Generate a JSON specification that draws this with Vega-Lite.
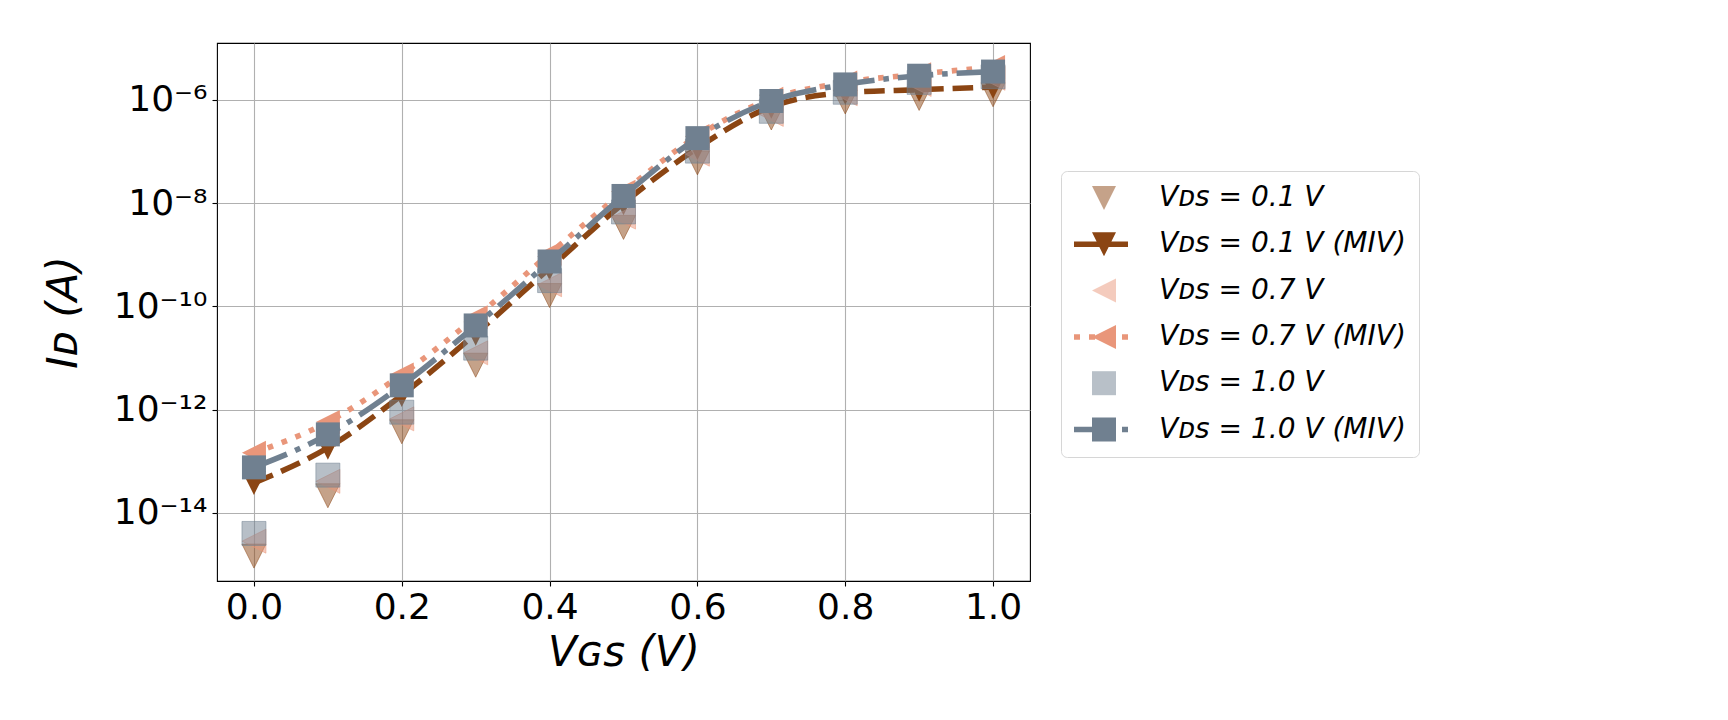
{
  "$schema": "https://vega.github.io/schema/vega-lite/v6.json",
  "width": 813,
  "height": 538,
  "autosize": {"type": "none"},
  "padding": {"left": 217, "top": 43, "right": 698, "bottom": 139},
  "background": "white",
  "datasets": {
    "pts": [
      {"vgs": 0.0, "id": 1.45e-15, "series": "Vᴅꜱ = 0.1 V"},
      {"vgs": 0.1, "id": 2.14e-14, "series": "Vᴅꜱ = 0.1 V"},
      {"vgs": 0.2, "id": 3.72e-13, "series": "Vᴅꜱ = 0.1 V"},
      {"vgs": 0.3, "id": 7.24e-12, "series": "Vᴅꜱ = 0.1 V"},
      {"vgs": 0.4, "id": 1.62e-10, "series": "Vᴅꜱ = 0.1 V"},
      {"vgs": 0.5, "id": 3.39e-9, "series": "Vᴅꜱ = 0.1 V"},
      {"vgs": 0.6, "id": 6.03e-8, "series": "Vᴅꜱ = 0.1 V"},
      {"vgs": 0.7, "id": 4.47e-7, "series": "Vᴅꜱ = 0.1 V"},
      {"vgs": 0.8, "id": 9.12e-7, "series": "Vᴅꜱ = 0.1 V"},
      {"vgs": 0.9, "id": 1.07e-6, "series": "Vᴅꜱ = 0.1 V"},
      {"vgs": 1.0, "id": 1.26e-6, "series": "Vᴅꜱ = 0.1 V"},
      {"vgs": 0.0, "id": 3.80e-14, "series": "Vᴅꜱ = 0.1 V (MIV)"},
      {"vgs": 0.1, "id": 1.82e-13, "series": "Vᴅꜱ = 0.1 V (MIV)"},
      {"vgs": 0.2, "id": 1.91e-12, "series": "Vᴅꜱ = 0.1 V (MIV)"},
      {"vgs": 0.3, "id": 2.95e-11, "series": "Vᴅꜱ = 0.1 V (MIV)"},
      {"vgs": 0.4, "id": 5.50e-10, "series": "Vᴅꜱ = 0.1 V (MIV)"},
      {"vgs": 0.5, "id": 1.0e-8, "series": "Vᴅꜱ = 0.1 V (MIV)"},
      {"vgs": 0.6, "id": 1.17e-7, "series": "Vᴅꜱ = 0.1 V (MIV)"},
      {"vgs": 0.7, "id": 7.41e-7, "series": "Vᴅꜱ = 0.1 V (MIV)"},
      {"vgs": 0.8, "id": 1.38e-6, "series": "Vᴅꜱ = 0.1 V (MIV)"},
      {"vgs": 0.9, "id": 1.58e-6, "series": "Vᴅꜱ = 0.1 V (MIV)"},
      {"vgs": 1.0, "id": 1.78e-6, "series": "Vᴅꜱ = 0.1 V (MIV)"},
      {"vgs": 0.0, "id": 2.82e-15, "series": "Vᴅꜱ = 0.7 V"},
      {"vgs": 0.1, "id": 4.07e-14, "series": "Vᴅꜱ = 0.7 V"},
      {"vgs": 0.2, "id": 6.61e-13, "series": "Vᴅꜱ = 0.7 V"},
      {"vgs": 0.3, "id": 1.26e-11, "series": "Vᴅꜱ = 0.7 V"},
      {"vgs": 0.4, "id": 2.63e-10, "series": "Vᴅꜱ = 0.7 V"},
      {"vgs": 0.5, "id": 5.37e-9, "series": "Vᴅꜱ = 0.7 V"},
      {"vgs": 0.6, "id": 8.91e-8, "series": "Vᴅꜱ = 0.7 V"},
      {"vgs": 0.7, "id": 5.25e-7, "series": "Vᴅꜱ = 0.7 V"},
      {"vgs": 0.8, "id": 1.32e-6, "series": "Vᴅꜱ = 0.7 V"},
      {"vgs": 0.9, "id": 2.0e-6, "series": "Vᴅꜱ = 0.7 V"},
      {"vgs": 1.0, "id": 2.63e-6, "series": "Vᴅꜱ = 0.7 V"},
      {"vgs": 0.0, "id": 1.45e-13, "series": "Vᴅꜱ = 0.7 V (MIV)"},
      {"vgs": 0.1, "id": 5.75e-13, "series": "Vᴅꜱ = 0.7 V (MIV)"},
      {"vgs": 0.2, "id": 4.79e-12, "series": "Vᴅꜱ = 0.7 V (MIV)"},
      {"vgs": 0.3, "id": 6.17e-11, "series": "Vᴅꜱ = 0.7 V (MIV)"},
      {"vgs": 0.4, "id": 1.05e-9, "series": "Vᴅꜱ = 0.7 V (MIV)"},
      {"vgs": 0.5, "id": 1.66e-8, "series": "Vᴅꜱ = 0.7 V (MIV)"},
      {"vgs": 0.6, "id": 2.0e-7, "series": "Vᴅꜱ = 0.7 V (MIV)"},
      {"vgs": 0.7, "id": 1.05e-6, "series": "Vᴅꜱ = 0.7 V (MIV)"},
      {"vgs": 0.8, "id": 2.19e-6, "series": "Vᴅꜱ = 0.7 V (MIV)"},
      {"vgs": 0.9, "id": 3.16e-6, "series": "Vᴅꜱ = 0.7 V (MIV)"},
      {"vgs": 1.0, "id": 4.37e-6, "series": "Vᴅꜱ = 0.7 V (MIV)"},
      {"vgs": 0.0, "id": 3.98e-15, "series": "Vᴅꜱ = 1.0 V"},
      {"vgs": 0.1, "id": 5.37e-14, "series": "Vᴅꜱ = 1.0 V"},
      {"vgs": 0.2, "id": 8.91e-13, "series": "Vᴅꜱ = 1.0 V"},
      {"vgs": 0.3, "id": 1.55e-11, "series": "Vᴅꜱ = 1.0 V"},
      {"vgs": 0.4, "id": 3.16e-10, "series": "Vᴅꜱ = 1.0 V"},
      {"vgs": 0.5, "id": 6.76e-9, "series": "Vᴅꜱ = 1.0 V"},
      {"vgs": 0.6, "id": 1.02e-7, "series": "Vᴅꜱ = 1.0 V"},
      {"vgs": 0.7, "id": 6.03e-7, "series": "Vᴅꜱ = 1.0 V"},
      {"vgs": 0.8, "id": 1.41e-6, "series": "Vᴅꜱ = 1.0 V"},
      {"vgs": 0.9, "id": 2.19e-6, "series": "Vᴅꜱ = 1.0 V"},
      {"vgs": 1.0, "id": 2.82e-6, "series": "Vᴅꜱ = 1.0 V"},
      {"vgs": 0.0, "id": 7.59e-14, "series": "Vᴅꜱ = 1.0 V (MIV)"},
      {"vgs": 0.1, "id": 3.31e-13, "series": "Vᴅꜱ = 1.0 V (MIV)"},
      {"vgs": 0.2, "id": 2.95e-12, "series": "Vᴅꜱ = 1.0 V (MIV)"},
      {"vgs": 0.3, "id": 4.27e-11, "series": "Vᴅꜱ = 1.0 V (MIV)"},
      {"vgs": 0.4, "id": 7.41e-10, "series": "Vᴅꜱ = 1.0 V (MIV)"},
      {"vgs": 0.5, "id": 1.38e-8, "series": "Vᴅꜱ = 1.0 V (MIV)"},
      {"vgs": 0.6, "id": 1.82e-7, "series": "Vᴅꜱ = 1.0 V (MIV)"},
      {"vgs": 0.7, "id": 9.55e-7, "series": "Vᴅꜱ = 1.0 V (MIV)"},
      {"vgs": 0.8, "id": 2.0e-6, "series": "Vᴅꜱ = 1.0 V (MIV)"},
      {"vgs": 0.9, "id": 2.95e-6, "series": "Vᴅꜱ = 1.0 V (MIV)"},
      {"vgs": 1.0, "id": 3.55e-6, "series": "Vᴅꜱ = 1.0 V (MIV)"}
    ]
  },
  "data": {"name": "pts"},
  "encoding": {
    "x": {
      "field": "vgs", "type": "quantitative",
      "scale": {"domain": [-0.05, 1.05], "nice": false, "zero": false},
      "axis": {"values": [0, 0.2, 0.4, 0.6, 0.8, 1.0], "format": ".1f", "title": "Vɢꜱ (V)", "labelFlush": false, "labelPadding": 4, "titlePadding": 7, "labelOverlap": false}
    },
    "y": {
      "field": "id", "type": "quantitative",
      "scale": {"type": "log", "domain": [4.77e-16, 1.27e-5], "nice": false},
      "axis": {
        "values": [1e-14, 1e-12, 1e-10, 1e-8, 1e-6],
        "labelExpr": "datum.value < 1e-13 ? '10⁻¹⁴' : datum.value < 1e-11 ? '10⁻¹²' : datum.value < 1e-9 ? '10⁻¹⁰' : datum.value < 1e-7 ? '10⁻⁸' : '10⁻⁶'",
        "title": "Iᴅ (A)", "labelPadding": 5, "titlePadding": 28, "labelOverlap": false
      }
    }
  },
  "layer": [
    {
      "transform": [{"filter": "datum.series == 'Vᴅꜱ = 0.1 V'"}],
      "mark": {"type": "point", "shape": "M0,1L-1,-1L1,-1Z", "filled": true, "fill": "#8B4513", "fillOpacity": 0.5, "stroke": "#8B4513", "strokeOpacity": 0.5, "strokeWidth": 1, "size": 576}
    },
    {
      "transform": [{"filter": "datum.series == 'Vᴅꜱ = 0.1 V (MIV)'"}],
      "mark": {"type": "line", "color": "#8B4513", "strokeWidth": 5.56, "strokeDash": [20.6, 8.9], "strokeCap": "butt", "interpolate": "monotone"}
    },
    {
      "transform": [{"filter": "datum.series == 'Vᴅꜱ = 0.1 V (MIV)'"}],
      "mark": {"type": "point", "shape": "M0,1L-1,-1L1,-1Z", "filled": true, "fill": "#8B4513", "opacity": 1, "strokeWidth": 0, "size": 576}
    },
    {
      "transform": [{"filter": "datum.series == 'Vᴅꜱ = 0.7 V'"}],
      "mark": {"type": "point", "shape": "M-1,0L1,-1L1,1Z", "filled": true, "fill": "#E9967A", "fillOpacity": 0.5, "stroke": "#E9967A", "strokeOpacity": 0.5, "strokeWidth": 1, "size": 576}
    },
    {
      "transform": [{"filter": "datum.series == 'Vᴅꜱ = 0.7 V (MIV)'"}],
      "mark": {"type": "line", "color": "#E9967A", "strokeWidth": 5.56, "strokeDash": [5.6, 9.2], "strokeCap": "butt", "interpolate": "monotone"}
    },
    {
      "transform": [{"filter": "datum.series == 'Vᴅꜱ = 0.7 V (MIV)'"}],
      "mark": {"type": "point", "shape": "M-1,0L1,-1L1,1Z", "filled": true, "fill": "#E9967A", "opacity": 1, "strokeWidth": 0, "size": 576}
    },
    {
      "transform": [{"filter": "datum.series == 'Vᴅꜱ = 1.0 V'"}],
      "mark": {"type": "point", "shape": "square", "filled": true, "fill": "#708090", "fillOpacity": 0.5, "stroke": "#708090", "strokeOpacity": 0.5, "strokeWidth": 1, "size": 576}
    },
    {
      "transform": [{"filter": "datum.series == 'Vᴅꜱ = 1.0 V (MIV)'"}],
      "mark": {"type": "line", "color": "#708090", "strokeWidth": 5.56, "strokeDash": [35.6, 8.9, 5.6, 8.9], "strokeCap": "butt", "interpolate": "monotone"}
    },
    {
      "transform": [{"filter": "datum.series == 'Vᴅꜱ = 1.0 V (MIV)'"}],
      "mark": {"type": "point", "shape": "square", "filled": true, "fill": "#708090", "opacity": 1, "strokeWidth": 0, "size": 576}
    },
    {
      "mark": {"type": "point", "filled": true, "opacity": 0, "size": 576},
      "encoding": {
        "shape": {
          "field": "series", "type": "nominal",
          "scale": {
            "domain": ["Vᴅꜱ = 0.1 V", "Vᴅꜱ = 0.1 V (MIV)", "Vᴅꜱ = 0.7 V", "Vᴅꜱ = 0.7 V (MIV)", "Vᴅꜱ = 1.0 V", "Vᴅꜱ = 1.0 V (MIV)"],
            "range": [
              "M0,1L-1,-1L1,-1Z",
              "M-2.5,-0.23H2V0.23H-2.5Z M-1,-1L1,-1L0,1Z",
              "M-1,0L1,-1L1,1Z",
              "M-2.5,-0.23H-2V0.23H-2.5Z M-1.25,-0.23H-0.75V0.23H-1.25Z M1.5,-0.23H2V0.23H1.5Z M-1,0L1,-1L1,1Z",
              "M-1,-1H1V1H-1Z",
              "M-2.5,-0.23H-1V0.23H-2.5Z M1.5,-0.23H2V0.23H1.5Z M-1,-1H1V1H-1Z"
            ]
          },
          "legend": {"title": null}
        },
        "color": {
          "field": "series", "type": "nominal",
          "scale": {
            "domain": ["Vᴅꜱ = 0.1 V", "Vᴅꜱ = 0.1 V (MIV)", "Vᴅꜱ = 0.7 V", "Vᴅꜱ = 0.7 V (MIV)", "Vᴅꜱ = 1.0 V", "Vᴅꜱ = 1.0 V (MIV)"],
            "range": ["#c5a289", "#8B4513", "#f4cbbd", "#E9967A", "#b8c0c8", "#708090"]
          },
          "legend": {"title": null}
        }
      }
    }
  ],
  "config": {
    "font": "DejaVu Sans",
    "view": {"stroke": "black", "strokeWidth": 1.1},
    "axis": {
      "domain": false,
      "grid": true,
      "gridColor": "#b0b0b0",
      "gridWidth": 1.1,
      "tickColor": "black",
      "tickSize": 5,
      "tickWidth": 1.1,
      "labelFont": "DejaVu Sans",
      "labelFontSize": 36,
      "labelColor": "black",
      "titleFont": "DejaVu Sans",
      "titleFontSize": 42,
      "titleFontWeight": "normal",
      "titleFontStyle": "italic",
      "titleColor": "black"
    },
    "legend": {
      "orient": "none",
      "legendX": 844,
      "legendY": 128,
      "padding": 13,
      "rowPadding": 18.3,
      "symbolSize": 576,
      "symbolOffset": 16,
      "labelOffset": 41,
      "symbolOpacity": 1,
      "symbolStrokeWidth": 0,
      "labelFont": "DejaVu Sans",
      "labelFontSize": 28,
      "labelFontStyle": "italic",
      "labelColor": "black",
      "labelLimit": 600,
      "fillColor": "white",
      "strokeColor": "#d6d6d6",
      "cornerRadius": 6
    }
  }
}
